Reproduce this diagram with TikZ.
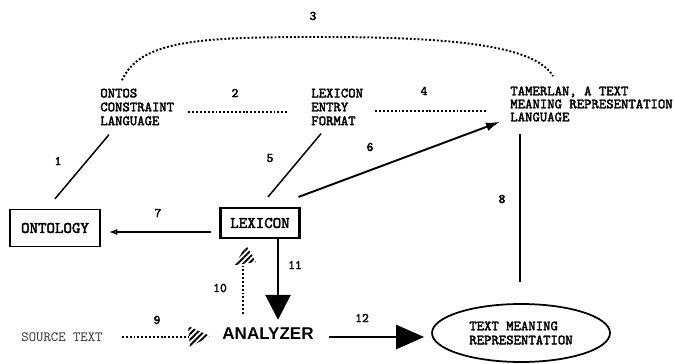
\documentclass[tikz,border=0pt]{standalone}
\usepackage{fontspec}
\setmainfont{Liberation Serif}
\setsansfont{Liberation Sans}
\setmonofont{lmmono10-regular.otf}[BoldFont=lmmono10-regular.otf, BoldFeatures={FakeBold=2.5}]
\usetikzlibrary{arrows.meta,calc,shapes.geometric,patterns.meta}
\tikzset{%
        num/.style = {font=\ttfamily\bfseries\fontsize{7.4}{8}\selectfont, inner sep=0pt},
        term/.style = {font=\ttfamily\bfseries\fontsize{8}{7.9}\selectfont, align=left, inner sep=0pt, anchor=west},
        box/.style = {draw, font=\ttfamily\bfseries\fontsize{9.2}{10}\selectfont, inner sep=0pt},
        link/.style = {line width=0.85pt},
        dots/.style = {line width=1.1pt, dash pattern=on 1.1pt off 1.1pt},
        hatch/.style = {pattern={Lines[angle=45,distance=2.3pt,line width=1.1pt]}}
}

\begin{document}
\begin{tikzpicture}[x=0.02cm, y=-0.02cm]
        \useasboundingbox (0,0) rectangle (675,364);
        \node[term] (ontos) at (100,107) {ONTOS\\CONSTRAINT\\LANGUAGE};
        \node[term] (lexfmt) at (311,107) {LEXICON\\ENTRY\\FORMAT};
        \node[term, font=\ttfamily\bfseries\fontsize{8}{7.4}\selectfont] (tamerlan) at (510,104)
                {TAMERLAN, A TEXT\\MEANING REPRESENTATION\\LANGUAGE};
        \node[box, line width=0.8pt, minimum width=1.8cm, minimum height=0.74cm] (ontology) at (55,228) {ONTOLOGY};
        \node[box, line width=1.2pt, minimum width=1.58cm, minimum height=0.6cm] (lexicon) at (260,223) {LEXICON};
        \node[font=\sffamily\bfseries\fontsize{9.7}{10}\selectfont, inner sep=0pt] (analyzer) at (268,334) {ANALYZER};
        \node[font=\ttfamily\fontsize{8}{8}\selectfont, inner sep=0pt, text=black!80] (source) at (62,337) {SOURCE TEXT};
        \node[draw, ellipse, line width=1pt, minimum width=3.56cm, minimum height=1.16cm, inner sep=0pt,
                font=\ttfamily\bfseries\fontsize{8}{8}\selectfont, align=left] (tmr) at (521,333) {TEXT MEANING\\REPRESENTATION};

        \node[num] (n1) at (58,161) {1};
        \node[num] (n2) at (235,93) {2};
        \node[num] (n3) at (313,16) {3};
        \node[num] (n4) at (424,91) {4};
        \node[num] (n5) at (270,158) {5};
        \node[num] (n6) at (370,147) {6};
        \node[num] (n7) at (158,213) {7};
        \node[num] (n8) at (502,199) {8};
        \node[num] (n9) at (157,320) {9};
        \node[num] (n10) at (220,288) {10};
        \node[num] (n11) at (295,265) {11};
        \node[num] (n12) at (362,318) {12};

        \draw[dots] ($(ontos.north west)+(22,-8)$) .. controls (140,40) and (200,37) .. (320,37)
                .. controls (450,37) and (535,45) .. ($(tamerlan.north west)+(43,-10)$);
        \draw[dots] ($(ontos.east)+(14,5)$) -- ($(lexfmt.west)+(-23,5)$);
        \draw[dots] ($(lexfmt.east)+(12,4)$) -- ($(tamerlan.west)+(-23,7)$);
        \draw[link] ($(ontos.south west)+(9,9)$) -- ($(ontology.north)+(0,-10)$);
        \draw[link] ($(lexfmt.south west)+(10,8)$) -- ($(lexicon.north)+(8,-10)$);
        \draw[link, line width=1.1pt, -{Latex[length=8pt,width=5pt]}]
                ($(lexicon.north east)+(-2,-10)$) -- ($(tamerlan.south west)+(-10,0)$);
        \draw[link] ($(tamerlan.south west)+(10,12)$) -- ($(tmr.north)+(-1,-21)$);
        \draw[link, -{Latex[open,length=5pt,width=3.5pt]}]
                ($(lexicon.west)+(-8,9)$) -- ($(ontology.east)+(8,4)$);
        \draw[line width=1.6pt, -{Triangle[length=0.5cm,width=0.5cm]}]
                ($(lexicon.south)+(18,0)$) -- ($(analyzer.north)+(10,-8)$);
        \draw[line width=1.4pt, -{Triangle[length=0.56cm,width=0.48cm]}]
                ($(analyzer.east)+(15,3)$) -- ($(tmr.west)+(-7,4)$);
        \draw[dots] ($(analyzer.north)+(-25,-14)$) -- ($(lexicon.south)+(-17,27)$);
        \fill[hatch] ($(lexicon.south)+(-14,6)$) -- ++(-11,20) -- ++(21,-3) -- cycle;
        \draw[dots] ($(source.east)+(19,0)$) -- ($(analyzer.west)+(-34,3)$);
        \fill[hatch] ($(analyzer.west)+(-12,2)$) -- ++(-22,-10) -- ++(2,21) -- cycle;
\end{tikzpicture}
\end{document}
